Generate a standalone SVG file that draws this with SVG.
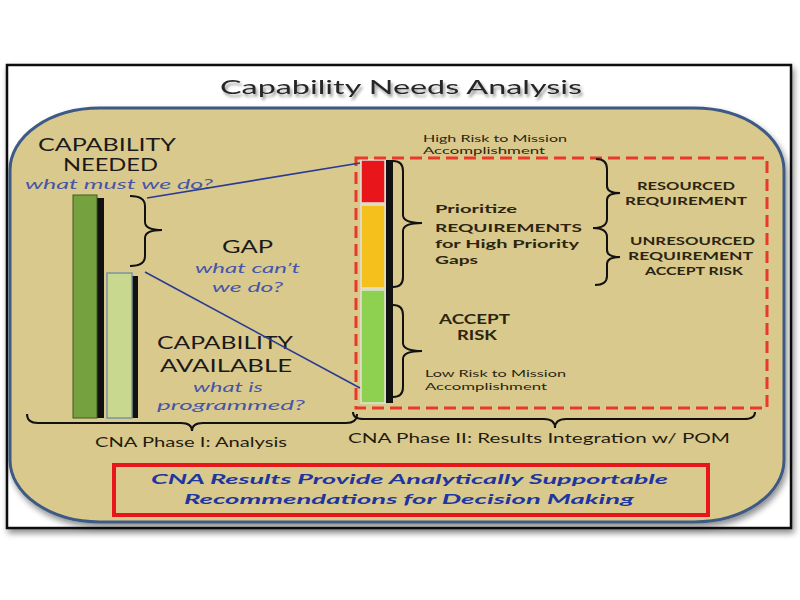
<svg xmlns="http://www.w3.org/2000/svg" width="800" height="600" viewBox="0 0 800 600">
<defs>
<filter id="sh" x="-5%" y="-5%" width="110%" height="115%"><feGaussianBlur in="SourceAlpha" stdDeviation="3"/><feOffset dx="2" dy="4" result="b"/><feComponentTransfer><feFuncA type="linear" slope="0.45"/></feComponentTransfer><feMerge><feMergeNode/><feMergeNode in="SourceGraphic"/></feMerge></filter>
<filter id="tsh" x="-5%" y="-30%" width="110%" height="160%"><feGaussianBlur in="SourceAlpha" stdDeviation="1.5"/><feOffset dx="1.5" dy="2.5"/><feComponentTransfer><feFuncA type="linear" slope="0.4"/></feComponentTransfer><feMerge><feMergeNode/><feMergeNode in="SourceGraphic"/></feMerge></filter>
<style>
text{font-family:Lato,"Liberation Sans",sans-serif;}
.cap{font-size:16.5px;fill:#1a1a1a;text-anchor:middle;}
.q{font-size:14px;fill:#4656a8;font-style:italic;text-anchor:middle;}
.ph{font-size:13px;fill:#1f1c10;text-anchor:middle;}
.sm{font-size:9.8px;fill:#2b2510;}
.pr{font-size:12px;fill:#2b2510;font-weight:bold;}
.rs{font-size:11px;fill:#2b2510;font-weight:bold;text-anchor:middle;}
.ac{font-size:13px;fill:#2b2510;font-weight:bold;text-anchor:middle;}
.bx{font-size:14px;fill:#1f36a0;font-weight:bold;font-style:italic;text-anchor:middle;}
.brace{fill:none;stroke:#111;stroke-width:2;}
.conn{fill:none;stroke:#2a3b92;stroke-width:1.6;}
</style>
</defs>
<rect width="800" height="600" fill="#ffffff"/>
<g id="frame">
<rect x="7" y="65" width="784" height="463" fill="#ffffff" stroke="#111" stroke-width="2.5" filter="url(#sh)"/>
<rect x="10" y="108" width="774" height="414" rx="90" ry="62" fill="#dac98d" stroke="#3d5a85" stroke-width="3" filter="url(#sh)"/>
</g>
<g id="title"><text x="401" y="94" font-size="19" fill="#262626" text-anchor="middle" textLength="362" lengthAdjust="spacingAndGlyphs" filter="url(#tsh)">Capability Needs Analysis</text></g>
<g id="bars">
<rect x="97" y="198" width="7" height="220" fill="#111"/>
<rect x="73" y="195" width="24" height="223" fill="#76a13f" stroke="#3e5a22" stroke-width="1"/>
<rect x="132" y="276" width="6" height="142" fill="#111"/>
<rect x="107" y="273" width="25" height="145" fill="#c8d98f" stroke="#7e93a0" stroke-width="1.5"/>
</g>
<g id="labels-left">
<text class="cap" x="107" y="151" textLength="138" lengthAdjust="spacingAndGlyphs">CAPABILITY</text>
<text class="cap" x="110.5" y="171" textLength="95" lengthAdjust="spacingAndGlyphs">NEEDED</text>
<text class="q" x="119" y="189" textLength="188" lengthAdjust="spacingAndGlyphs">what must we do?</text>
<text class="cap" x="247.5" y="253" textLength="51" lengthAdjust="spacingAndGlyphs">GAP</text>
<text class="q" x="247.5" y="273" textLength="105" lengthAdjust="spacingAndGlyphs">what can’t</text>
<text class="q" x="247.5" y="292" textLength="71" lengthAdjust="spacingAndGlyphs">we do?</text>
<text class="cap" x="225" y="349" textLength="136" lengthAdjust="spacingAndGlyphs">CAPABILITY</text>
<text class="cap" x="226" y="372" textLength="132" lengthAdjust="spacingAndGlyphs">AVAILABLE</text>
<text class="q" x="228" y="392" textLength="70" lengthAdjust="spacingAndGlyphs">what is</text>
<text class="q" x="231" y="410" textLength="148" lengthAdjust="spacingAndGlyphs">programmed?</text>
</g>
<g id="risk-column">
<rect x="386" y="160" width="7" height="243" fill="#111"/>
<rect x="361" y="160" width="24" height="43" fill="#e8151b" stroke="#e2e2d6" stroke-width="1.5"/>
<rect x="361" y="205" width="24" height="83" fill="#f5bf1c" stroke="#e2e2d6" stroke-width="1.5"/>
<rect x="361" y="290" width="24" height="113" fill="#8ed150" stroke="#e2e2d6" stroke-width="1.5"/>
</g>
<g id="phase2-box">
<rect x="356" y="158" width="411" height="250" fill="none" stroke="#e8392a" stroke-width="3" stroke-dasharray="12,6"/>
</g>
<g id="connectors">
<path class="conn" d="M147 198 L360 163"/>
<path class="conn" d="M145 272 L360 388"/>
</g>
<g id="braces">
<path class="brace" d="M130 196 Q145 196 145 206 L145 222 Q145 230 162 230 Q145 230 145 238 L145 256 Q145 266 130 266"/>
<path class="brace" d="M393 161 Q403 161 403 171 L403 215 Q403 223 422 223 Q403 223 403 231 L403 277 Q403 287 393 287"/>
<path class="brace" d="M393 305 Q403 305 403 315 L403 343 Q403 351 422 351 Q403 351 403 359 L403 387 Q403 397 393 397"/>
<path class="brace" d="M596 159 Q607 159 607 169 L607 186 Q607 193 620 193 Q607 193 607 200 L607 219 Q607 228 593 228 Q607 228 607 237 L607 250 Q607 257 620 257 Q607 257 607 264 L607 276 Q607 285 595 285"/>
<path class="brace" d="M27 414 Q27 423 38 423 L181 423 Q192 423 192 431 Q192 423 203 423 L346 423 Q357 423 357 414"/>
<path class="brace" d="M353 412 Q353 419 364 419 L544 419 Q555 419 555 428 Q555 419 566 419 L744 419 Q755 419 755 412"/>
</g>
<g id="labels-right">
<text class="sm" x="423" y="142" textLength="144" lengthAdjust="spacingAndGlyphs">High Risk to Mission</text>
<text class="sm" x="423" y="154" textLength="122" lengthAdjust="spacingAndGlyphs">Accomplishment</text>
<text class="pr" x="435" y="213" textLength="82" lengthAdjust="spacingAndGlyphs">Prioritize</text>
<text class="pr" x="435" y="232" textLength="147" lengthAdjust="spacingAndGlyphs">REQUIREMENTS</text>
<text class="pr" x="435" y="248" textLength="144" lengthAdjust="spacingAndGlyphs">for High Priority</text>
<text class="pr" x="435" y="264" textLength="43" lengthAdjust="spacingAndGlyphs">Gaps</text>
<text class="rs" x="686" y="190" textLength="98" lengthAdjust="spacingAndGlyphs">RESOURCED</text>
<text class="rs" x="686" y="205" textLength="122" lengthAdjust="spacingAndGlyphs">REQUIREMENT</text>
<text class="rs" x="692.5" y="245" textLength="125" lengthAdjust="spacingAndGlyphs">UNRESOURCED</text>
<text class="rs" x="690.5" y="260" textLength="125" lengthAdjust="spacingAndGlyphs">REQUIREMENT</text>
<text class="rs" x="694" y="275" textLength="98" lengthAdjust="spacingAndGlyphs">ACCEPT RISK</text>
<text class="ac" x="474.5" y="324" textLength="71" lengthAdjust="spacingAndGlyphs">ACCEPT</text>
<text class="ac" x="477" y="340" textLength="40" lengthAdjust="spacingAndGlyphs">RISK</text>
<text class="sm" x="425" y="377" textLength="141" lengthAdjust="spacingAndGlyphs">Low Risk to Mission</text>
<text class="sm" x="425" y="390" textLength="122" lengthAdjust="spacingAndGlyphs">Accomplishment</text>
</g>
<g id="phase-labels">
<text class="ph" x="191" y="447" textLength="192" lengthAdjust="spacingAndGlyphs">CNA Phase I: Analysis</text>
<text class="ph" x="539" y="443" textLength="382" lengthAdjust="spacingAndGlyphs">CNA Phase II: Results Integration w/ POM</text>
</g>
<g id="conclusion">
<rect x="114" y="465" width="594" height="50" fill="none" stroke="#e8151b" stroke-width="4"/>
<text class="bx" x="409.5" y="484" textLength="517" lengthAdjust="spacingAndGlyphs">CNA Results Provide Analytically Supportable</text>
<text class="bx" x="409" y="504" textLength="450" lengthAdjust="spacingAndGlyphs">Recommendations for Decision Making</text>
</g>
</svg>
